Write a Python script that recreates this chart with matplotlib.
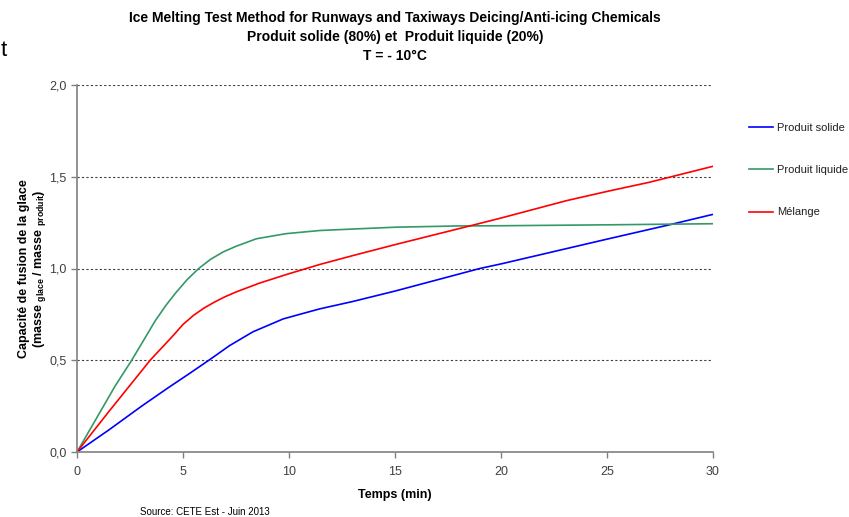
import matplotlib
matplotlib.use("Agg")
import matplotlib.pyplot as plt
from matplotlib.ticker import FuncFormatter

plt.rcParams['font.family'] = ['Liberation Sans', 'DejaVu Sans']
plt.rcParams['mathtext.fontset'] = 'custom'
plt.rcParams['mathtext.rm'] = 'Liberation Sans'
plt.rcParams['mathtext.bf'] = 'Liberation Sans:bold'

# donnees
t_solide = [0, 1.5, 3.05, 4.3, 5.27, 6.22, 7.2, 8.3, 9.72, 10.5, 11.45, 13, 15, 19, 20, 25, 27.9, 30]
solide = [0, 0.12, 0.25, 0.35, 0.425, 0.5, 0.58, 0.655, 0.725, 0.75, 0.78, 0.82, 0.877, 1.0, 1.025, 1.16, 1.237, 1.295]

t_liquide = [0, 1.79, 2.58, 3.2, 3.69, 4.2, 4.64, 5.2, 5.74, 6.3, 6.89, 7.48, 8.46, 9.87, 11.45, 13, 15, 18, 20, 25, 30]
liquide = [0, 0.358, 0.5, 0.62, 0.715, 0.8, 0.865, 0.94, 1.0, 1.05, 1.09, 1.12, 1.162, 1.19, 1.207, 1.215, 1.225, 1.232, 1.233, 1.238, 1.244]

t_melange = [0, 1.5, 3.45, 4.5, 5.0, 5.5, 6.0, 6.5, 7.0, 7.5, 8.6, 9.87, 11.45, 13, 15, 18.7, 20, 23.1, 25, 27, 30]
melange = [0, 0.22, 0.5, 0.63, 0.695, 0.745, 0.785, 0.818, 0.847, 0.872, 0.92, 0.967, 1.022, 1.07, 1.13, 1.237, 1.275, 1.37, 1.42, 1.47, 1.557]

fig = plt.figure(figsize=(8.49, 5.17), dpi=100)
ax = fig.add_axes([77/849, 1-452/517, 636/849, 367/517])

ax.plot(t_solide, solide, color='#0000FF', lw=1.2, label='Produit solide')
ax.plot(t_liquide, liquide, color='#339966', lw=1.2, label='Produit liquide')
ax.plot(t_melange, melange, color='#FF0000', lw=1.2, label='Mélange')

ax.set_xlim(0, 30)
ax.set_ylim(0, 2)
ax.set_xticks([0, 5, 10, 15, 20, 25, 30])
ax.set_yticks([0, 0.5, 1.0, 1.5, 2.0])
ax.yaxis.set_major_formatter(FuncFormatter(lambda v, p: ('%.1f' % v).replace('.', ',')))
for y in [0.5, 1.0, 1.5, 2.0]:
    ax.axhline(y, color='#404040', lw=0.8, ls=(0, (2, 2)), zorder=0)

for s in ['top', 'right']:
    ax.spines[s].set_visible(False)
for s in ['left', 'bottom']:
    ax.spines[s].set_color('#808080')
    ax.spines[s].set_linewidth(1.2)
ax.tick_params(colors='#808080', labelcolor='#404040', labelsize=9, length=4, width=1)
ax.tick_params(axis='x', pad=6)

ax.set_xlabel('Temps (min)', fontsize=9, fontweight='bold', labelpad=8)
ax.set_ylabel('Capacité de fusion de la glace\n(masse $_{\\mathbf{glace}}$ / masse $_{\\mathbf{produit}}$)',
              fontsize=9, fontweight='bold', labelpad=1, linespacing=1.1)

fig.text(395/849, 1-18/517, 'Ice Melting Test Method for Runways and Taxiways Deicing/Anti-icing Chemicals',
         ha='center', va='center', fontsize=10, fontweight='bold')
fig.text(395/849, 1-37/517, 'Produit solide (80%) et  Produit liquide (20%)',
         ha='center', va='center', fontsize=10, fontweight='bold')
fig.text(395/849, 1-56/517, 'T = - 10°C', ha='center', va='center', fontsize=10, fontweight='bold')
fig.text(1/849, 1-51/517, 't', ha='left', va='center', fontsize=16)

fig.text(140/849, 1-512/517, 'Source: CETE Est - Juin 2013', ha='left', va='center', fontsize=7)

fig.legend(loc='upper left', bbox_to_anchor=(739/849, 1-113/517), frameon=False,
           fontsize=8, handlelength=2.2, handletextpad=0.35, labelspacing=2.9,
           labelcolor='#202020')

fig.savefig('out.png', dpi=100)
